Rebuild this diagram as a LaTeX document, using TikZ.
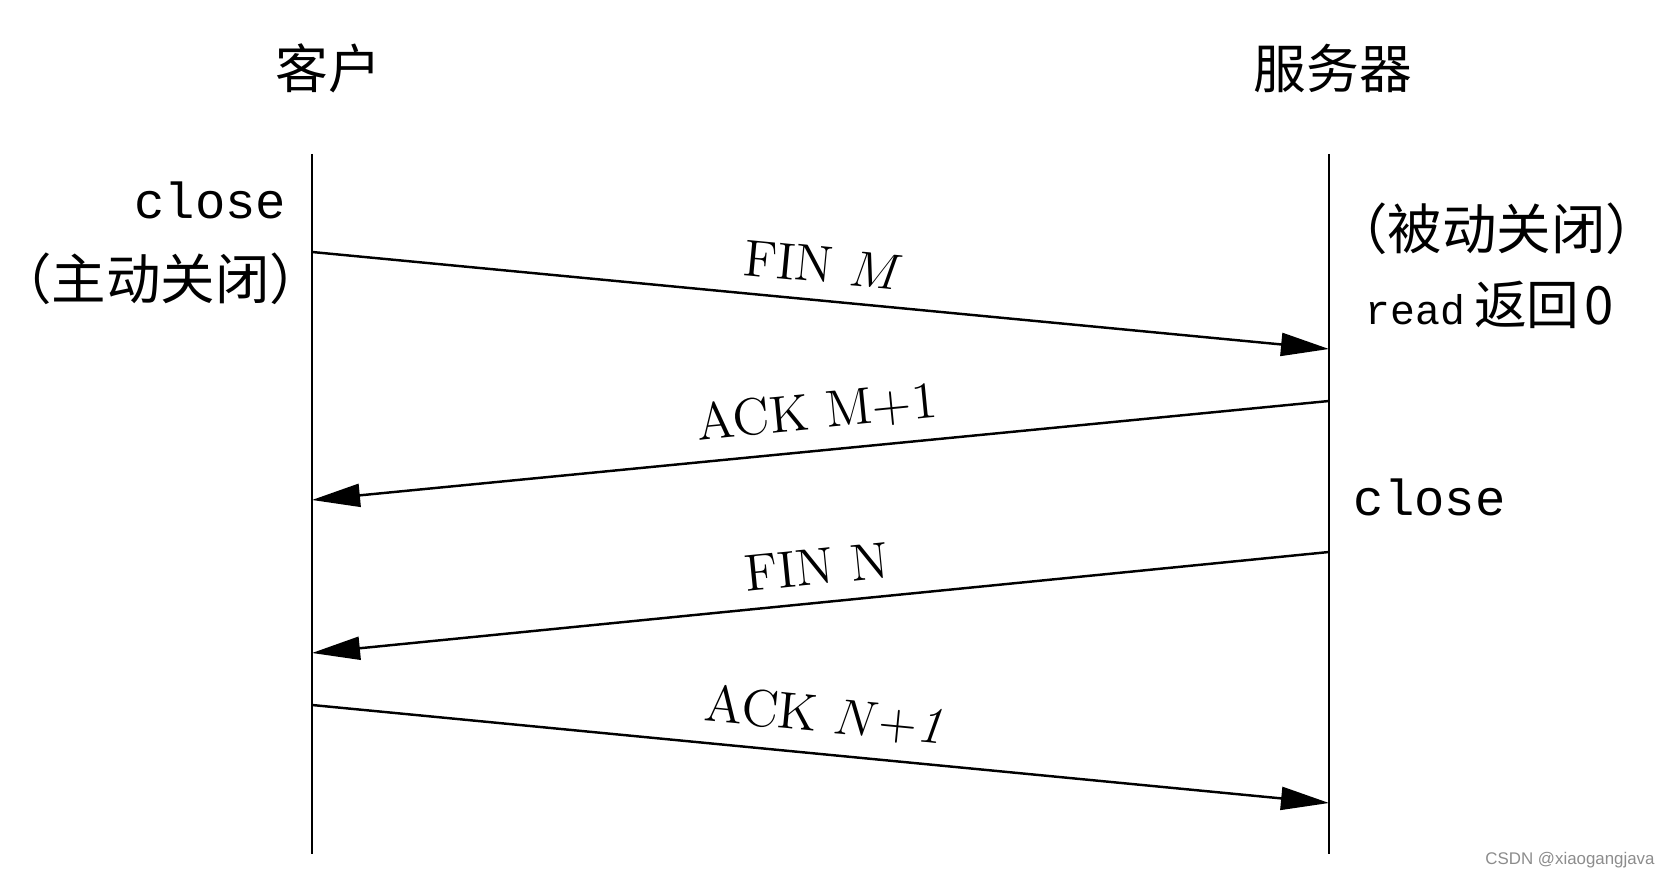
\documentclass[tikz,border=0pt]{standalone}
\usepackage{fontspec}
\setmonofont{Liberation Mono}
\setsansfont{Liberation Sans}
\newfontfamily\cjk{Noto Sans CJK SC}
\usetikzlibrary{arrows.meta}
\tikzset{
  msg/.style={-{Triangle[length=4.8mm,width=2.3mm]}, line width=0.7pt},
  life/.style={line width=0.6pt},
  lbl/.style={font=\fontsize{14.8}{17}\selectfont, above=0.5mm, sloped},
  head/.style={font=\cjk\fontsize{15}{18}\selectfont},
  note/.style={font=\cjk\fontsize{15.5}{18}\selectfont, inner sep=0pt},
  call/.style={font=\ttfamily\fontsize{14.4}{17}\selectfont, inner sep=0pt}
}
\begin{document}
\begin{tikzpicture}
\useasboundingbox (0,0) rectangle (16.68,-8.81);
% headings
\node(cl) at (3.28,-0.68) [head] {客户};
\node(sv) at (13.33,-0.68) [head] {服务器};
% lifelines
\coordinate(c0) at (3.12,-1.54);
\coordinate(c9) at (3.12,-8.54);
\coordinate(s0) at (13.29,-1.54);
\coordinate(s9) at (13.29,-8.54);
\draw[life] (c0) -- (c9);
\draw[life] (s0) -- (s9);
% arrow ends
\coordinate(c1) at (3.12,-2.52);
\coordinate(s1) at (13.29,-3.49);
\coordinate(s2) at (13.29,-4.01);
\coordinate(c2) at (3.12,-5.00);
\coordinate(s3) at (13.29,-5.52);
\coordinate(c3) at (3.12,-6.53);
\coordinate(c4) at (3.12,-7.05);
\coordinate(s4) at (13.29,-8.03);
% side notes
\node(cclose) at (2.87,-2.00) [call, anchor=east] {close};
\node(cact) at (3.25,-2.79) [note, anchor=east] {（主动关闭）};
\node(spas) at (13.60,-2.29) [note, anchor=west] {\hspace{-0.5em}（被动关闭）};
\node(sread) at (13.65,-3.05) [anchor=west, inner sep=0pt] {{\ttfamily\fontsize{11.8}{14}\selectfont read}\hspace{0.25em}{\cjk\fontsize{15}{18}\selectfont 返回\hspace{0.1em}0}};
\node(sclose) at (13.53,-4.97) [call, anchor=west] {close};
% segments
\draw[msg] (c1) to node[lbl] {FIN $M$} (s1);
\draw[msg] (s2) to node[lbl] {ACK M+1} (c2);
\draw[msg] (s3) to node[lbl] {FIN N} (c3);
\draw[msg] (c4) to node[lbl] {ACK $N\mathit{+1}$} (s4);
% watermark
\node(wm) at (15.70,-8.60) [font=\sffamily\fontsize{4.8}{6}\selectfont, text=black!45, inner sep=0pt] {CSDN @xiaogangjava};
\end{tikzpicture}
\end{document}
